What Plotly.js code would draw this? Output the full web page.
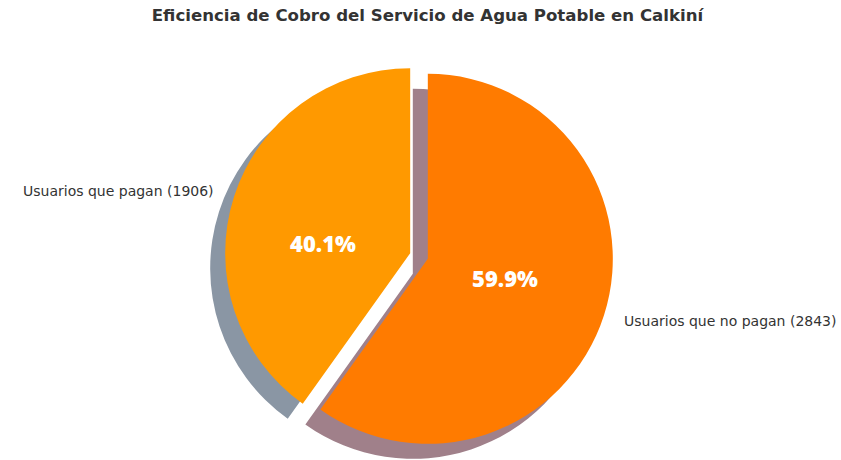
<!DOCTYPE html>
<html>
<head>
<meta charset="utf-8">
<script src="https://cdn.plot.ly/plotly-3.0.1.min.js"></script>
<style>
html, body { margin: 0; padding: 0; background: #ffffff; overflow: hidden; }
#chart { width: 841px; height: 500px; }
</style>
</head>
<body>
<div id="chart"></div>
<script>
// ---- data ----
const categories = ['Usuarios que pagan', 'Usuarios que no pagan'];
const values = [1906, 2843];
const sliceColors = ['#FF9900', '#FF7B00'];
const shadowColors = ['#8A96A4', '#A0808A'];
const chartTitle = 'Eficiencia de Cobro del Servicio de Agua Potable en Calkiní';

// ---- geometry (pixels) ----
const W = 841, H = 500;
const cx = 419, cy = 256, R = 185;
const pull = 0.05;
const shadowDx = -15, shadowDy = 15;
const labelDistance = 1.1;
const pctPixel = [[323, 243], [505, 278]];

const total = values.reduce((a, b) => a + b, 0);
// first slice runs counterclockwise from 12 o'clock (matplotlib startangle=90)
const rotation = -360 * values[0] / total;

function domainFor(centerX, centerY) {
  const half = R * (1 + pull);
  return {
    x: [(centerX - half) / W, (centerX + half) / W],
    y: [(H - centerY - half) / H, (H - centerY + half) / H]
  };
}

const pulls = values.map(() => pull);

const shadowTrace = {
  type: 'pie',
  values: values,
  labels: categories.map(c => c + ' '),
  sort: false,
  direction: 'clockwise',
  rotation: rotation,
  pull: pulls,
  marker: { colors: shadowColors, line: { width: 0 } },
  textinfo: 'none',
  hoverinfo: 'skip',
  showlegend: false,
  domain: domainFor(cx + shadowDx, cy + shadowDy)
};

const mainTrace = {
  type: 'pie',
  values: values,
  labels: categories,
  sort: false,
  direction: 'clockwise',
  rotation: rotation,
  pull: pulls,
  marker: { colors: sliceColors, line: { width: 0 } },
  textinfo: 'none',
  hoverinfo: 'label+value+percent',
  showlegend: false,
  domain: domainFor(cx, cy)
};

const annotations = [];
let cum = 0;
values.forEach((v, i) => {
  const start = 90 + 360 * cum / total;
  const mid = (start + 180 * v / total) * Math.PI / 180;
  cum += v;
  const ecx = cx + pull * R * Math.cos(mid);
  const ecy = cy - pull * R * Math.sin(mid);
  const lx = ecx + labelDistance * R * Math.cos(mid);
  const ly = ecy - labelDistance * R * Math.sin(mid);
  annotations.push({
    xref: 'paper', yref: 'paper',
    x: lx / W, y: 1 - ly / H,
    xanchor: Math.cos(mid) < 0 ? 'right' : 'left',
    yanchor: 'middle',
    showarrow: false,
    text: categories[i] + ' (' + v + ')',
    font: { family: 'DejaVu Sans', size: 14, color: '#333333' }
  });
  annotations.push({
    xref: 'paper', yref: 'paper',
    x: pctPixel[i][0] / W, y: 1 - pctPixel[i][1] / H,
    xanchor: 'center', yanchor: 'middle',
    showarrow: false,
    text: (100 * v / total).toFixed(1) + '%',
    font: { family: 'Open Sans', size: 22, color: '#ffffff', weight: 800 }
  });
});

const layout = {
  width: W, height: H,
  margin: { l: 0, r: 0, t: 0, b: 0 },
  paper_bgcolor: '#ffffff',
  plot_bgcolor: '#ffffff',
  title: {
    text: '<b>' + chartTitle + '</b>',
    font: { family: 'DejaVu Sans', size: 16.6, color: '#333333' },
    x: 427.5 / W, xanchor: 'center',
    y: 1 - 15 / H, yanchor: 'middle', yref: 'container'
  },
  annotations: annotations,
  showlegend: false
};

Plotly.newPlot('chart', [shadowTrace, mainTrace], layout, { displayModeBar: false, staticPlot: true });
</script>
</body>
</html>
